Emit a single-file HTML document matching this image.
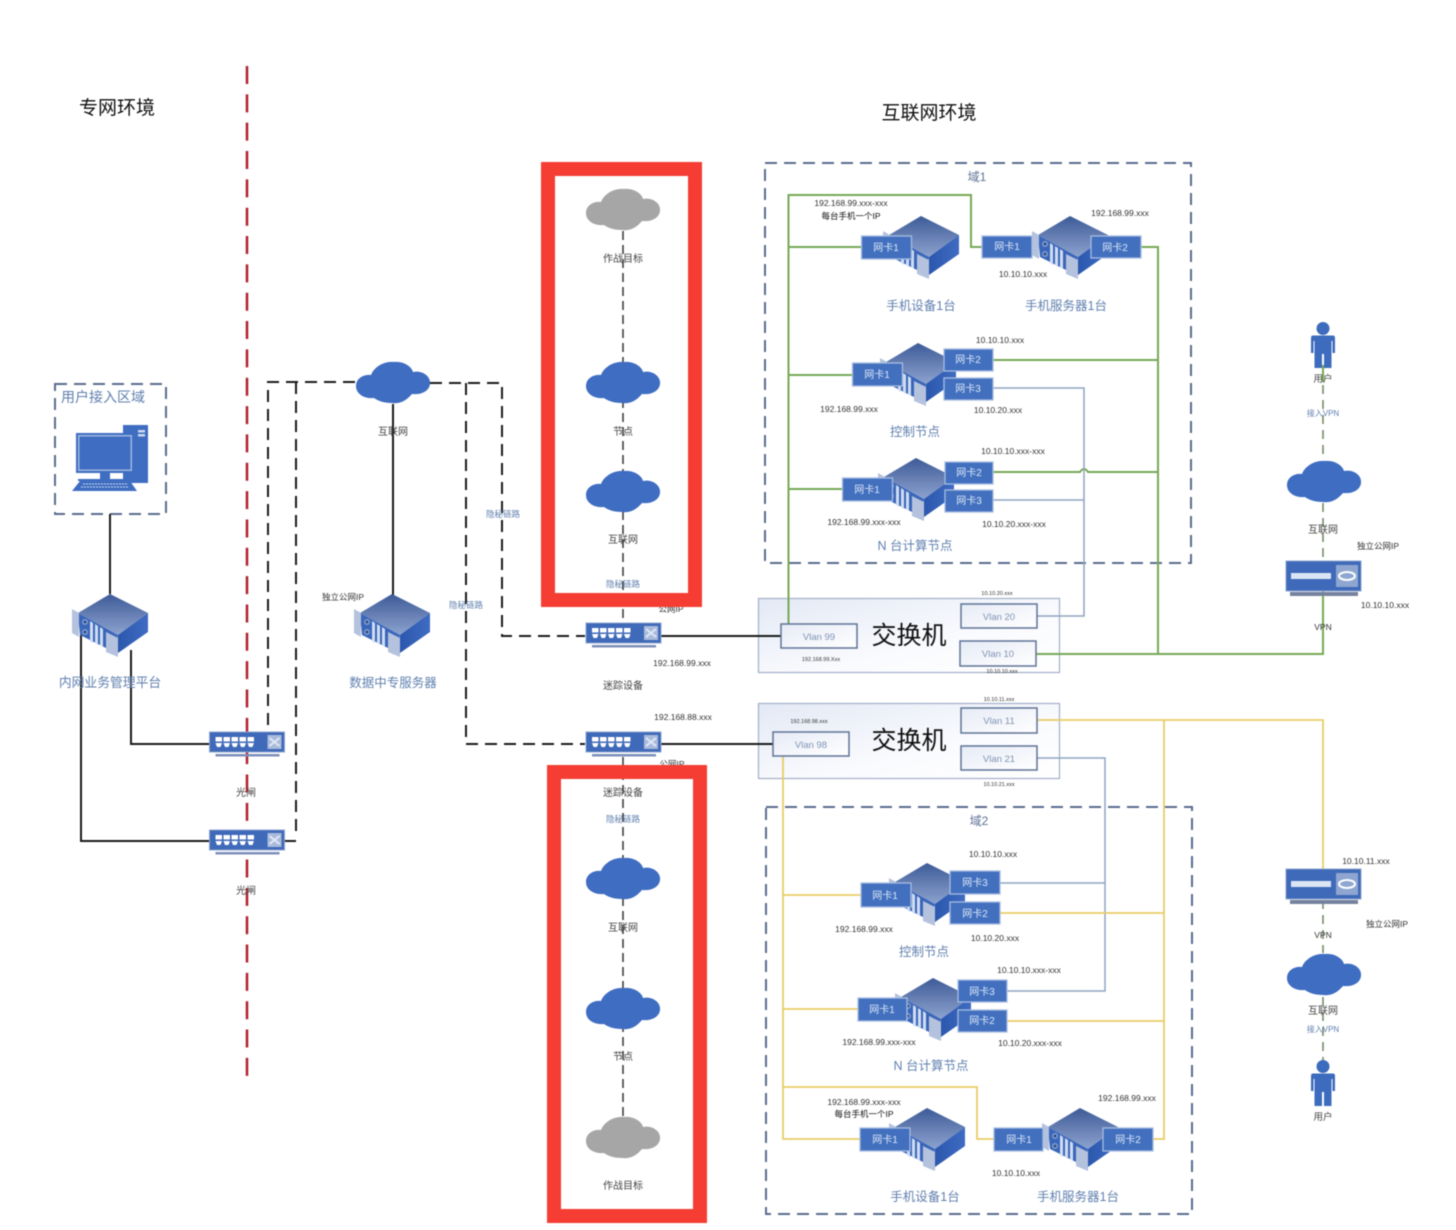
<!DOCTYPE html>
<html lang="zh"><head><meta charset="utf-8"><title>网络拓扑图</title>
<style>
html,body{margin:0;padding:0;background:#fff}
svg{display:block;filter:blur(.45px)}
text{font-family:"Liberation Sans","Noto Sans CJK SC",sans-serif;text-anchor:middle;fill:#333;font-size:8.5px}
.l{fill:#5f7fae;font-size:12.5px}
.s{font-size:5.5px;fill:#333}
.m{font-size:10px;fill:#444}
.h{fill:#5f7fae;font-size:8.5px}
.c{fill:#dbe6f5;font-size:10px}
.v{fill:#7f93b3;font-size:9.5px}
.d{fill:none}
</style></head><body>
<svg width="1456" height="1230" viewBox="0 0 1456 1230" xmlns="http://www.w3.org/2000/svg">
<defs>
<linearGradient id="top" x1="0" y1="0" x2="0" y2="1"><stop offset="0" stop-color="#3d5b98"/><stop offset="1" stop-color="#8ea3cf"/></linearGradient>
<linearGradient id="side" x1="0" y1="0" x2="1" y2="0"><stop offset="0" stop-color="#2b57ad"/><stop offset="1" stop-color="#3f6cc2"/></linearGradient>
<linearGradient id="pan" x1="0" y1="0" x2="1" y2="1"><stop offset="0" stop-color="#e3e9f5"/><stop offset=".6" stop-color="#fafbfe"/><stop offset="1" stop-color="#fff"/></linearGradient>
<linearGradient id="vl" x1="0" y1="0" x2="1" y2="1"><stop offset="0" stop-color="#e6ebf6"/><stop offset="1" stop-color="#fff"/></linearGradient>
<symbol id="server" width="78" height="66" viewBox="0 0 78 66" overflow="visible">
<path d="M38 1 76 20 46 42 6 20Z" fill="url(#top)"/>
<path d="M46 42 76 20V39L46 60Z" fill="url(#side)"/>
<path d="M6 20 46 42 44 60 8 42Z" fill="#3a66ba"/>
<path d="M0 16 7 20V44L0 40Z" fill="#b4c2de"/>
<path d="M34 39 46 45V64L34 59Z" fill="#b4c2de"/>
<path d="M18 28 21 30V50L18 48ZM23 31 26 33V52L23 50ZM28 34 31 36V54L28 52Z" fill="#cfdcf2"/>
<circle cx="13" cy="29" r="3" fill="#7f9ccf"/><circle cx="13" cy="39" r="3" fill="#7f9ccf"/>
<circle cx="13" cy="29" r="1.400" fill="#28467e"/><circle cx="13" cy="39" r="1.400" fill="#28467e"/>
</symbol>
<symbol id="cloud" width="76" height="46" viewBox="0 0 76 46" overflow="visible">
<path d="M0 25C0 17 8 13 15 14 18 6 28 0 38 1 48 0 56 6 57 11 66 9 75 15 74 23 73 31 64 34 56 33 50 40 44 43 36 42 28 42 22 40 18 37 10 38 0 34 0 25Z"/>
</symbol>
<symbol id="switch" width="76" height="27" viewBox="0 0 76 27" overflow="visible">
<rect x="6" y="22" width="64" height="2.500" fill="#7c8fb8"/>
<rect x="0" y="0" width="75" height="20" fill="#3f69b9" stroke="#8da4cf" stroke-width="1"/>
<g fill="#fff"><path d="M6 5h6.500v4.500H6zM14 5h6.500v4.500H14zM22 5h6.500v4.500H22zM30 5h6.500v4.500H30zM38 5h6.500v4.500H38zM6 11h6.500l-1.500 4H7.500zM14 11h6.500l-1.500 4h-3.500zM22 11h6.500l-1.500 4h-3.500zM30 11h6.500l-1.500 4h-3.500zM38 11h6.500l-1.500 4h-3.500z"/></g>
<rect x="58" y="3" width="14" height="14" fill="#a9bbdc"/>
<path d="M60 6l10 8M70 6l-10 8" stroke="#dfe7f4" stroke-width="2"/>
</symbol>
<symbol id="router" width="76" height="36" viewBox="0 0 76 36" overflow="visible">
<rect x="4" y="31" width="68" height="4" fill="#75829e"/>
<rect x="0" y="0" width="75" height="30" fill="#3f69b9" stroke="#8da4cf"/>
<rect x="5" y="12" width="40" height="6" fill="#dbe5f4"/>
<rect x="50" y="4" width="22" height="22" fill="#8ea6d0"/>
<ellipse cx="61" cy="15" rx="8" ry="4" fill="none" stroke="#fff" stroke-width="2"/>
</symbol>
<symbol id="person" width="26" height="46" viewBox="0 0 26 46" overflow="visible">
<circle cx="13" cy="6.500" r="6.500" fill="#3d6bbd"/>
<path d="M3 13.500H23Q25 13.500 25 16V31H22.500V19H21.500V46H14V32H12V46H4.500V19H3.500V31H1V16Q1 13.500 3 13.500Z" fill="#3d6bbd"/>
</symbol>
</defs>

<rect width="1456" height="1230" fill="#fff"/>

<!-- boundary -->
<line x1="247" y1="66" x2="247" y2="1077" stroke="#b0202f" stroke-width="2.5" stroke-dasharray="18 10.340"/>

<!-- domain frames -->
<g class="d" stroke="#5a6c8e" stroke-width="2" stroke-dasharray="12 7">
<rect x="765" y="163" width="426" height="400"/>
<rect x="766" y="807" width="426" height="407"/>
<rect x="55" y="384" width="111" height="130"/>
</g>

<!-- switch panels -->
<rect x="758.500" y="598.500" width="301" height="74" fill="url(#pan)" stroke="#a2aec8" stroke-width="1.200"/>
<rect x="758.500" y="703.500" width="301" height="75" fill="url(#pan)" stroke="#a2aec8" stroke-width="1.200"/>

<!-- black links -->
<g fill="none" stroke="#1a1a1a" stroke-width="2">
<path d="M110 514V594"/>
<path d="M393 404V595"/>
<path d="M131 650V744H210"/>
<path d="M81 635V841H210"/>
<path d="M661 636H781"/>
<path d="M661 744H773"/>
<path d="M284 841H296"/>
</g>
<g fill="none" stroke="#1a1a1a" stroke-width="2" stroke-dasharray="12 7">
<path d="M355 382H268V732"/>
<path d="M296 382V836"/>
<path d="M430 383H502V636H585"/>
<path d="M466 383V744H585"/>
</g>
<g fill="none" stroke="#333" stroke-width="1.500" stroke-dasharray="9 5">
<path d="M623 231V622"/>
<path d="M623 757V1118"/>
</g>

<!-- green -->
<g fill="none" stroke="#76a854" stroke-width="2">
<path d="M788.500 625V195H971V247H982"/>
<path d="M789 247H861"/>
<path d="M789 375H853"/>
<path d="M789 489H843"/>
<path d="M1141 247H1158V654"/>
<path d="M993 360H1158"/>
<path d="M993 472H1080Q1084 466 1088 472H1158"/>
<path d="M1036 654H1323V590"/>
<path d="M1323 365V382"/>
</g>
<!-- blue-gray -->
<g fill="none" stroke="#8ea4c2" stroke-width="1.500">
<path d="M993 388H1084V616H1037"/>
<path d="M993 500H1084"/>
<path d="M1037 758H1105V991H1007"/>
<path d="M1000 883H1105"/>
</g>
<!-- yellow -->
<g fill="none" stroke="#e8cd66" stroke-width="1.800">
<path d="M783 756V1139H860"/>
<path d="M783 895H861"/>
<path d="M783 1009H858"/>
<path d="M783 1087H977V1139H994"/>
<path d="M1037 720H1323V870"/>
<path d="M1164 720V1139H1153"/>
<path d="M1000 913H1164"/>
<path d="M1007 1021H1164"/>
</g>
<!-- right dashed -->
<g fill="none" stroke="#6d8560" stroke-width="1.500" stroke-dasharray="9 6">
<path d="M1323 385V460"/>
<path d="M1323 503V560"/>
<path d="M1323 900V953"/>
<path d="M1323 997V1060"/>
</g>

<!-- PC -->
<g>
<rect x="123" y="425" width="25" height="58" fill="#3f6dc1"/>
<rect x="138" y="430" width="7" height="2.500" fill="#cdd9ee"/><rect x="138" y="434" width="7" height="2.500" fill="#cdd9ee"/>
<rect x="76" y="433" width="58" height="40" fill="#3f6dc1"/>
<rect x="78" y="435" width="54" height="36" fill="#9fb6e0"/>
<rect x="79.500" y="436.500" width="51" height="33" fill="#3f6dc1"/>
<rect x="100" y="473" width="10" height="6" fill="#3f6dc1"/>
<rect x="78" y="479" width="56" height="2" fill="#3f6dc1"/>
<path d="M80 481H130L137 491H72Z" fill="#3f6dc1"/>
<path d="M83 484H127M81 487H129" stroke="#cdd9ee" stroke-dasharray="2 1" stroke-width="1"/>
</g>

<!-- servers -->
<use href="#server" x="72" y="593"/>
<use href="#server" x="354" y="593"/>
<use href="#server" x="883" y="215"/>
<use href="#server" x="1032" y="215"/>
<use href="#server" x="880" y="342"/>
<use href="#server" x="878" y="457"/>
<use href="#server" x="889" y="862"/>
<use href="#server" x="895" y="977"/>
<use href="#server" x="889" y="1107"/>
<use href="#server" x="1042" y="1107"/>

<!-- clouds -->
<g fill="#3f6dc1">
<use href="#cloud" x="356" y="361"/>
<use href="#cloud" x="586" y="361"/>
<use href="#cloud" x="586" y="470"/>
<use href="#cloud" x="586" y="857"/>
<use href="#cloud" x="586" y="987"/>
<use href="#cloud" x="1287" y="460"/>
<use href="#cloud" x="1287" y="953"/>
</g>
<g fill="#a6a6a6">
<use href="#cloud" x="586" y="188"/>
<use href="#cloud" x="586" y="1116"/>
</g>

<!-- switches -->
<use href="#switch" x="586" y="623"/>
<use href="#switch" x="586" y="732"/>
<use href="#switch" x="209.500" y="732"/>
<use href="#switch" x="209.500" y="830"/>

<!-- routers & people -->
<use href="#router" x="1286" y="561"/>
<use href="#router" x="1286" y="869"/>
<use href="#person" x="1310" y="322"/>
<use href="#person" x="1310" y="1060"/>

<!-- NIC boxes -->
<g fill="#4270bf" stroke="#a7bce0" stroke-width="1.300">
<rect x="861.500" y="236" width="50" height="23"/>
<rect x="982" y="236" width="50" height="22"/>
<rect x="1091" y="236" width="50" height="22"/>
<rect x="852.500" y="363" width="50" height="23"/>
<rect x="944" y="349" width="49" height="22"/>
<rect x="944" y="378" width="49" height="22"/>
<rect x="842.500" y="478" width="50" height="23"/>
<rect x="945" y="462" width="48" height="22"/>
<rect x="945" y="490" width="48" height="22"/>
<rect x="861" y="883" width="50" height="24"/>
<rect x="950" y="871" width="50" height="23"/>
<rect x="950" y="902" width="50" height="22"/>
<rect x="858" y="998" width="49" height="23"/>
<rect x="958" y="980" width="49" height="22"/>
<rect x="958" y="1010" width="49" height="22"/>
<rect x="860" y="1128" width="50" height="23"/>
<rect x="994" y="1128" width="49" height="23"/>
<rect x="1103" y="1128" width="50" height="23"/>
</g>
<g class="cards">
<text class="c" x="886" y="251">网卡1</text>
<text class="c" x="1007" y="250">网卡1</text>
<text class="c" x="1115" y="251">网卡2</text>
<text class="c" x="877" y="378">网卡1</text>
<text class="c" x="968" y="363">网卡2</text>
<text class="c" x="968" y="392">网卡3</text>
<text class="c" x="867" y="493">网卡1</text>
<text class="c" x="969" y="476">网卡2</text>
<text class="c" x="969" y="504">网卡3</text>
<text class="c" x="885" y="899">网卡1</text>
<text class="c" x="975" y="886">网卡3</text>
<text class="c" x="975" y="917">网卡2</text>
<text class="c" x="882" y="1013">网卡1</text>
<text class="c" x="982" y="995">网卡3</text>
<text class="c" x="982" y="1024">网卡2</text>
<text class="c" x="885" y="1143">网卡1</text>
<text class="c" x="1019" y="1143">网卡1</text>
<text class="c" x="1128" y="1143">网卡2</text>
</g>

<!-- VLANs -->
<g fill="url(#vl)" stroke="#5f7396" stroke-width="1.500">
<rect x="781" y="624" width="76" height="24"/>
<rect x="961" y="604" width="76" height="24"/>
<rect x="960" y="641" width="76" height="25"/>
<rect x="773" y="732" width="76" height="24"/>
<rect x="961" y="708" width="76" height="25"/>
<rect x="961" y="746" width="76" height="24"/>
</g>
<text class="v" x="819" y="640">Vlan 99</text>
<text class="v" x="999" y="620">Vlan 20</text>
<text class="v" x="998" y="657">Vlan 10</text>
<text class="v" x="811" y="748">Vlan 98</text>
<text class="v" x="999" y="724">Vlan 11</text>
<text class="v" x="999" y="762">Vlan 21</text>
<text x="909" y="644" style="font-size:25px;fill:#111">交换机</text>
<text x="909" y="749" style="font-size:25px;fill:#111">交换机</text>
<text class="s" x="997" y="595">10.10.20.xxx</text>
<text class="s" x="821" y="661">192.168.99.Xxx</text>
<text class="s" x="1002" y="673">10.10.10.xxx</text>
<text class="s" x="999" y="701">10.10.11.xxx</text>
<text class="s" x="809" y="723">192.168.98.xxx</text>
<text class="s" x="999" y="786">10.10.21.xxx</text>

<!-- titles -->
<text x="117" y="114" style="font-size:19px;fill:#111">专网环境</text>
<text x="929" y="119" style="font-size:19px;fill:#111">互联网环境</text>

<!-- left labels -->
<text class="l" x="103" y="402" style="font-size:14px">用户接入区域</text>
<text class="l" x="110" y="687" style="font-size:12.8px">内网业务管理平台</text>
<text class="l" x="393" y="687">数据中专服务器</text>
<text class="m" x="393" y="435">互联网</text>
<text x="343" y="600">独立公网IP</text>
<text class="h" x="503" y="517">隐秘链路</text>
<text class="h" x="466" y="608">隐秘链路</text>
<text class="m" x="246" y="796">光闸</text>
<text class="m" x="246" y="894">光闸</text>

<!-- centre labels -->
<text class="m" x="623" y="262">作战目标</text>
<text class="m" x="623" y="435">节点</text>
<text class="m" x="623" y="543">互联网</text>
<text class="h" x="623" y="587">隐秘链路</text>
<text x="671" y="612">公网IP</text>
<text x="682" y="666">192.168.99.xxx</text>
<text class="m" x="623" y="689">迷踪设备</text>
<text x="683" y="720">192.168.88.xxx</text>
<text x="672" y="767">公网IP</text>
<text class="m" x="623" y="796">迷踪设备</text>
<text class="h" x="623" y="822">隐秘链路</text>
<text class="m" x="623" y="931">互联网</text>
<text class="m" x="623" y="1060">节点</text>
<text class="m" x="623" y="1189">作战目标</text>

<!-- domain 1 labels -->
<text x="977" y="181" style="font-size:12px;fill:#5f7396">域1</text>
<text x="851" y="206">192.168.99.xxx-xxx</text>
<text x="851" y="219" style="fill:#111">每台手机一个IP</text>
<text x="1120" y="216">192.168.99.xxx</text>
<text x="1023" y="277">10.10.10.xxx</text>
<text class="l" x="921" y="310">手机设备1台</text>
<text class="l" x="1066" y="310">手机服务器1台</text>
<text x="1000" y="343">10.10.10.xxx</text>
<text x="849" y="412">192.168.99.xxx</text>
<text x="998" y="413">10.10.20.xxx</text>
<text class="l" x="915" y="436">控制节点</text>
<text x="1013" y="454">10.10.10.xxx-xxx</text>
<text x="864" y="525">192.168.99.xxx-xxx</text>
<text x="1014" y="527">10.10.20.xxx-xxx</text>
<text class="l" x="915" y="550">N 台计算节点</text>

<!-- domain 2 labels -->
<text x="979" y="825" style="font-size:12px;fill:#5f7396">域2</text>
<text x="993" y="857">10.10.10.xxx</text>
<text x="864" y="932">192.168.99.xxx</text>
<text x="995" y="941">10.10.20.xxx</text>
<text class="l" x="924" y="956">控制节点</text>
<text x="1029" y="973">10.10.10.xxx-xxx</text>
<text x="879" y="1045">192.168.99.xxx-xxx</text>
<text x="1030" y="1046">10.10.20.xxx-xxx</text>
<text class="l" x="931" y="1070">N 台计算节点</text>
<text x="864" y="1105">192.168.99.xxx-xxx</text>
<text x="864" y="1117" style="fill:#111">每台手机一个IP</text>
<text x="1127" y="1101">192.168.99.xxx</text>
<text x="1016" y="1176">10.10.10.xxx</text>
<text class="l" x="925" y="1201">手机设备1台</text>
<text class="l" x="1078" y="1201">手机服务器1台</text>

<!-- right labels -->
<text class="m" x="1323" y="382" style="font-size:9.5px">用户</text>
<text class="h" x="1323" y="416" style="font-size:8px">接入VPN</text>
<text class="m" x="1323" y="533">互联网</text>
<text x="1378" y="549">独立公网IP</text>
<text x="1385" y="608">10.10.10.xxx</text>
<text x="1323" y="630">VPN</text>
<text x="1366" y="864">10.10.11.xxx</text>
<text x="1387" y="927">独立公网IP</text>
<text x="1323" y="938">VPN</text>
<text class="m" x="1323" y="1014">互联网</text>
<text class="h" x="1323" y="1032" style="font-size:8px">接入VPN</text>
<text class="m" x="1323" y="1120" style="font-size:9.5px">用户</text>

<!-- red highlight frames -->
<g fill="none" stroke="#f53d33" stroke-width="14">
<rect x="548" y="169" width="147" height="431"/>
<rect x="554" y="772" width="146" height="444"/>
</g>
</svg>
</body></html>
